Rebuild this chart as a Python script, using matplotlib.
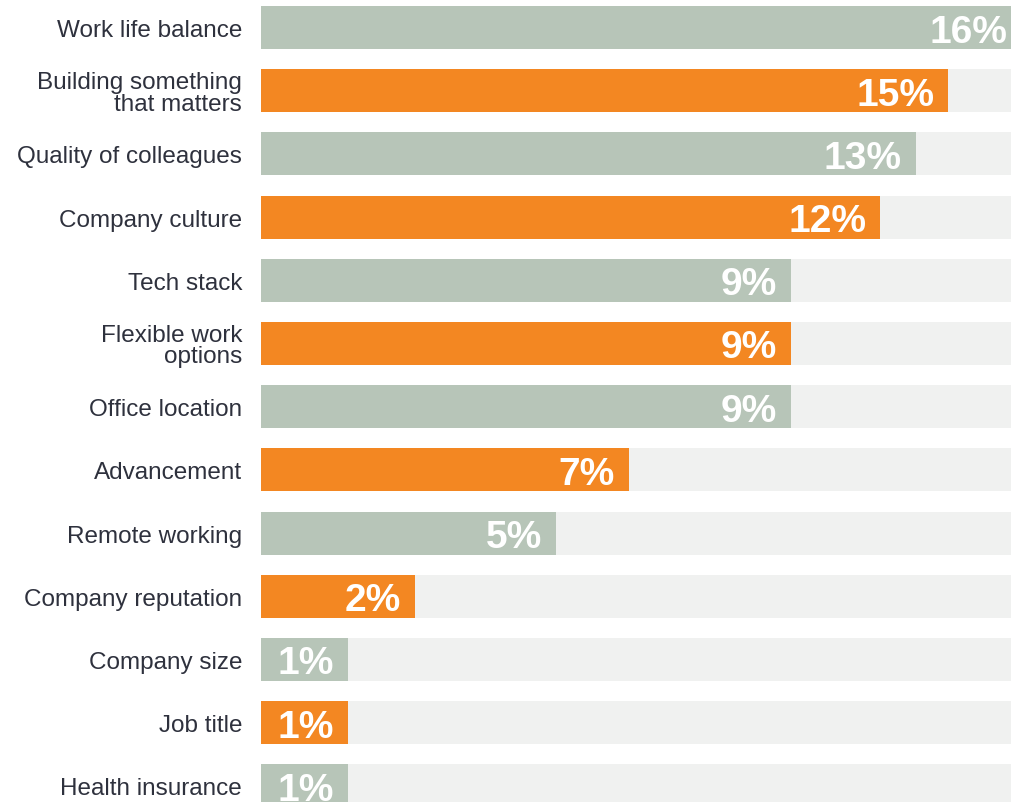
import matplotlib.pyplot as plt

plt.rcParams['font.family'] = ['Liberation Sans', 'DejaVu Sans']

# categories top -> bottom
labels = ['Work life balance', 'Building something\nthat matters', 'Quality of colleagues',
          'Company culture', 'Tech stack', 'Flexible work\noptions', 'Office location',
          'Advancement', 'Remote working', 'Company reputation', 'Company size',
          'Job title', 'Health insurance']
value_text = ['16%', '15%', '13%', '12%', '9%', '9%', '9%', '7%', '5%', '2%', '1%', '1%', '1%']
# bar lengths as drawn in the source (not strictly proportional to the labels)
bar_len = [16.2, 14.64, 13.95, 13.19, 11.29, 11.29, 11.29, 7.84, 6.28, 3.28, 1.85, 1.85, 1.85]

sage = '#b7c5b8'
orange = '#f38722'
track = '#f0f1f0'
colors = [sage if i % 2 == 0 else orange for i in range(len(labels))]

fig = plt.figure(figsize=(10.12, 8.03), dpi=100)
ax = fig.add_axes([261 / 1012, 0, 751 / 1012, 1])

y = list(range(len(labels)))
h = 0.68
ax.barh(y, [20] * len(y), height=h, color=track, zorder=1)
ax.barh(y, bar_len, height=h, color=colors, zorder=2)

for yi, L, t in zip(y, bar_len, value_text):
    ax.annotate(t, xy=(L, yi), xytext=(-10, 0), textcoords='offset points',
                ha='right', va='center_baseline', color='white',
                fontsize=28, fontweight='bold', zorder=3, annotation_clip=False)

ax.set_xlim(0, 16)
ax.set_ylim(12.255, -0.451)
ax.set_yticks(y)
ax.set_yticklabels(labels, fontsize=17.5, color='#2e313d', linespacing=0.97)
ax.tick_params(axis='y', length=0, pad=13.5)
ax.set_xticks([])
for s in ax.spines.values():
    s.set_visible(False)

fig.savefig('out.png', dpi=100)
